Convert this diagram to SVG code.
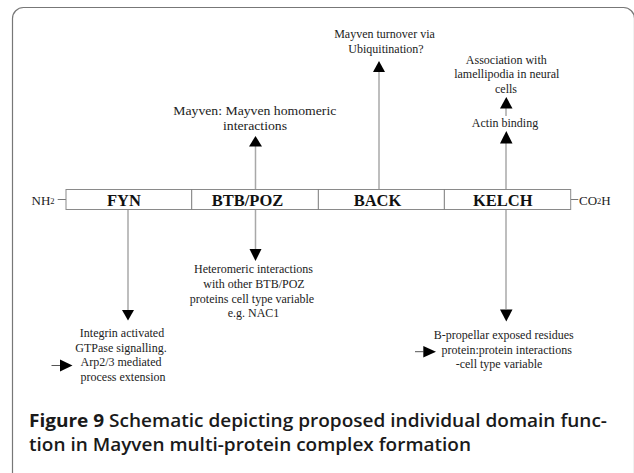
<svg xmlns="http://www.w3.org/2000/svg" width="634" height="473" viewBox="0 0 634 473">
<style>
.lbl{font-family:"Liberation Serif","Times New Roman",serif;font-size:12px;fill:#222;text-anchor:middle}
.dom{font-family:"Liberation Serif","Times New Roman",serif;font-size:16.5px;font-weight:bold;fill:#111;text-anchor:middle}
.term{font-family:"Liberation Serif","Times New Roman",serif;font-size:13px;fill:#222}
.conn{stroke:#a8a8a8;stroke-width:1.5;fill:none}
.tick{stroke:#777;stroke-width:1;fill:none}
.head{fill:#000}
.cap{font-family:"Open Sans","Noto Sans",sans-serif;font-size:17.5px;font-weight:600;fill:#1a1a1a}
</style>
<rect x="0" y="0" width="634" height="473" fill="#fff"/>
<rect x="12.5" y="7.5" width="622" height="478" rx="11" fill="none" stroke="#777" stroke-width="1.2"/>

<g id="connectors">
  <line class="conn" x1="128" y1="209.5" x2="128" y2="310"/>
  <polygon class="head" points="122,310 134,310 128,320.5"/>
  <line class="conn" x1="255.5" y1="189.5" x2="255.5" y2="146"/>
  <polygon class="head" points="249,146.5 262,146.5 255.5,136"/>
  <line class="conn" x1="255.5" y1="209.5" x2="255.5" y2="249"/>
  <polygon class="head" points="249.5,249 261.5,249 255.5,261"/>
  <line class="conn" x1="379" y1="189.5" x2="379" y2="72"/>
  <polygon class="head" points="373,72 385,72 379,61"/>
  <line class="conn" x1="506" y1="189.5" x2="506" y2="143"/>
  <polygon class="head" points="500,143.5 512.5,143.5 506.3,131"/>
  <line class="conn" x1="506" y1="116" x2="506" y2="108"/>
  <polygon class="head" points="500,108.5 512.5,108.5 506.3,97"/>
  <line class="conn" x1="506" y1="209.5" x2="506" y2="309"/>
  <polygon class="head" points="500,309.5 512.5,309.5 506.3,321.5"/>
  <line stroke="#555" stroke-width="1" x1="51.5" y1="365.5" x2="60" y2="365.5"/>
  <polygon class="head" points="60,359.5 72.5,365.5 60,371.5"/>
  <line stroke="#555" stroke-width="1" x1="415" y1="351.7" x2="423.5" y2="351.7"/>
  <polygon class="head" points="423.3,346 436,351.7 423.3,357.5"/>
</g>

<g id="protein-bar">
  <line class="tick" x1="57.7" y1="199.5" x2="66" y2="199.5"/>
  <line class="tick" x1="570.7" y1="199.5" x2="578.3" y2="199.5"/>
  <text class="term" x="31.5" y="204.5">NH<tspan font-size="8.5" dy="-1">2</tspan></text>
  <text class="term" x="579" y="204.5">CO<tspan font-size="8.5" dy="-1">2</tspan><tspan dy="1">H</tspan></text>
  <rect x="66" y="189.5" width="504.7" height="20" fill="#fff" stroke="#8a8a8a" stroke-width="1"/>
</g>
<g id="FYN">
  <text class="dom" x="124" y="205.5">FYN</text>
</g>
<g id="BTB-POZ">
  <line class="tick" x1="191.7" y1="189.5" x2="191.7" y2="209.5"/>
  <text class="dom" x="247.5" y="205.5">BTB/POZ</text>
</g>
<g id="BACK">
  <line class="tick" x1="318.3" y1="189.5" x2="318.3" y2="209.5"/>
  <text class="dom" x="377.5" y="205.5">BACK</text>
</g>
<g id="KELCH">
  <line class="tick" x1="444.3" y1="189.5" x2="444.3" y2="209.5"/>
  <text class="dom" x="502.8" y="205.5">KELCH</text>
</g>

<g id="ubiquitination">
  <text class="lbl" x="384.5" y="38">Mayven turnover via</text>
  <text class="lbl" x="386" y="53">Ubiquitination?</text>
</g>
<g id="lamellipodia">
  <text class="lbl" x="506.3" y="64">Association with</text>
  <text class="lbl" x="506.8" y="78.3">lamellipodia in neural</text>
  <text class="lbl" x="506" y="92.7">cells</text>
</g>
<g id="actin">
  <text class="lbl" x="505" y="127">Actin binding</text>
</g>
<g id="homomeric">
  <text class="lbl" x="254.8" y="115" textLength="163" lengthAdjust="spacingAndGlyphs">Mayven: Mayven homomeric</text>
  <text class="lbl" x="255" y="129.5" textLength="64" lengthAdjust="spacingAndGlyphs">interactions</text>
</g>
<g id="heteromeric">
  <text class="lbl" x="253.5" y="273.3">Heteromeric interactions</text>
  <text class="lbl" x="254" y="288">with other BTB/POZ</text>
  <text class="lbl" x="252" y="302.7">proteins cell type variable</text>
  <text class="lbl" x="253.5" y="317.3">e.g. NAC1</text>
</g>
<g id="integrin">
  <text class="lbl" x="122" y="337">Integrin activated</text>
  <text class="lbl" x="121" y="351.5">GTPase signalling.</text>
  <text class="lbl" x="121" y="366">Arp2/3 mediated</text>
  <text class="lbl" x="123" y="380.5">process extension</text>
</g>
<g id="b-propellar">
  <text class="lbl" x="503.8" y="339.3">B-propellar exposed residues</text>
  <text class="lbl" x="506.7" y="353.7">protein:protein interactions</text>
  <text class="lbl" x="499" y="367.7">-cell type variable</text>
</g>

<g id="caption">
  <text class="cap" x="29" y="427" textLength="578" lengthAdjust="spacingAndGlyphs"><tspan font-weight="700">Figure 9</tspan> Schematic depicting proposed individual domain func-</text>
  <text class="cap" x="29" y="451" textLength="442" lengthAdjust="spacingAndGlyphs">tion in Mayven multi-protein complex formation</text>
</g>
</svg>
